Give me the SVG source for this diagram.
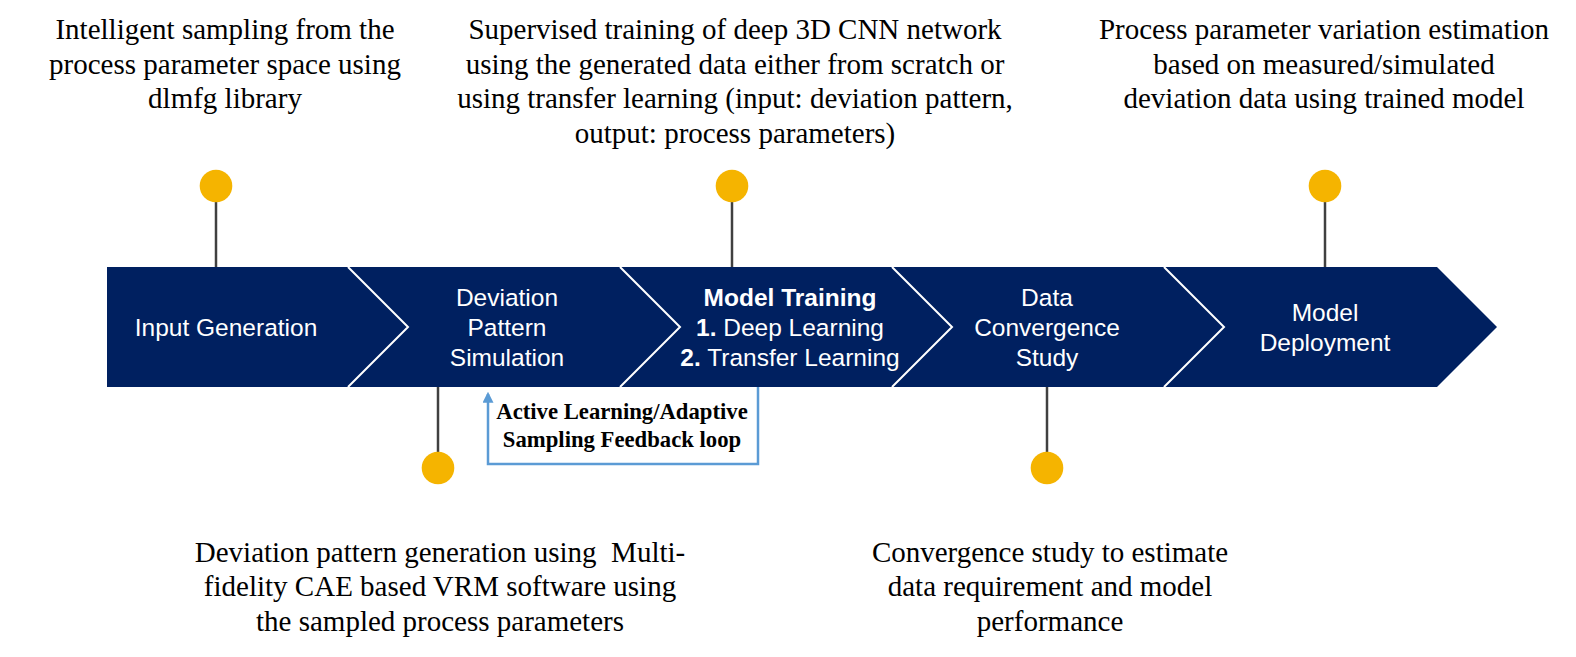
<svg xmlns="http://www.w3.org/2000/svg" width="1576" height="657" viewBox="0 0 1576 657">
<defs>
<style>
.desc{font-family:"Liberation Serif","Times New Roman",serif;font-size:29px;fill:#000;text-anchor:middle;}
.step{font-family:"Liberation Sans",Arial,sans-serif;font-size:24.5px;fill:#fff;text-anchor:middle;}
.b{font-weight:bold;}
.fb{font-family:"Liberation Serif","Times New Roman",serif;font-size:22.7px;font-weight:bold;fill:#000;text-anchor:middle;}
.stem{stroke:#404040;stroke-width:2.5;fill:none;}
.dot{fill:#F5B400;}
.sep{stroke:#fff;stroke-width:2;fill:none;}
.loop{stroke:#5B9BD5;stroke-width:2.5;fill:none;}
</style>
<marker id="ah" viewBox="0 0 10 10" refX="8" refY="5" markerWidth="4.4" markerHeight="4.4" orient="auto" markerUnits="strokeWidth">
<path d="M0,0 L10,5 L0,10 z" fill="#5B9BD5"/>
</marker>
</defs>
<rect width="1576" height="657" fill="#fff"/>

<g id="band">
<polygon points="107,267 1437,267 1497,327 1437,387 107,387" fill="#002060"/>
<polyline class="sep" points="348,267 408,327 348,387"/>
<polyline class="sep" points="620,267 680,327 620,387"/>
<polyline class="sep" points="892,267 952,327 892,387"/>
<polyline class="sep" points="1164,267 1224,327 1164,387"/>
</g>

<g id="connectors">
<line class="stem" x1="216" y1="200" x2="216" y2="267"/>
<line class="stem" x1="438" y1="387" x2="438" y2="454"/>
<line class="stem" x1="732" y1="200" x2="732" y2="267"/>
<line class="stem" x1="1047" y1="387" x2="1047" y2="454"/>
<line class="stem" x1="1325" y1="200" x2="1325" y2="267"/>
<path class="loop" d="M758,387 V464 H488 V394" marker-end="url(#ah)"/>
</g>

<g id="node-input-generation">
<text class="step" x="226" y="336">Input Generation</text>
<circle class="dot" cx="216" cy="186" r="16.3"/>
<text class="desc" x="225" y="39">Intelligent sampling from the</text>
<text class="desc" x="225" y="73.7">process parameter space using</text>
<text class="desc" x="225" y="108.4">dlmfg library</text>
</g>

<g id="node-deviation-pattern-simulation">
<text class="step" x="507" y="306">Deviation</text>
<text class="step" x="507" y="336">Pattern</text>
<text class="step" x="507" y="366">Simulation</text>
<circle class="dot" cx="438" cy="468" r="16.3"/>
<text class="desc" x="440" y="561.5" style="white-space:pre">Deviation pattern generation using  Multi-</text>
<text class="desc" x="440" y="596">fidelity CAE based VRM software using</text>
<text class="desc" x="440" y="630.5">the sampled process parameters</text>
</g>

<g id="node-model-training">
<text class="step b" x="790" y="306">Model Training</text>
<text class="step" x="790" y="336"><tspan class="b">1.</tspan> Deep Learning</text>
<text class="step" x="790" y="366"><tspan class="b">2.</tspan> Transfer Learning</text>
<circle class="dot" cx="732" cy="186" r="16.3"/>
<text class="desc" x="735" y="39">Supervised training of deep 3D CNN network</text>
<text class="desc" x="735" y="73.7">using the generated data either from scratch or</text>
<text class="desc" x="735" y="108.4">using transfer learning (input: deviation pattern,</text>
<text class="desc" x="735" y="143.1">output: process parameters)</text>
</g>

<g id="node-data-convergence-study">
<text class="step" x="1047" y="306">Data</text>
<text class="step" x="1047" y="336">Convergence</text>
<text class="step" x="1047" y="366">Study</text>
<circle class="dot" cx="1047" cy="468" r="16.3"/>
<text class="desc" x="1050" y="561.5">Convergence study to estimate</text>
<text class="desc" x="1050" y="596">data requirement and model</text>
<text class="desc" x="1050" y="630.5">performance</text>
</g>

<g id="node-model-deployment">
<text class="step" x="1325" y="321">Model</text>
<text class="step" x="1325" y="351">Deployment</text>
<circle class="dot" cx="1325" cy="186" r="16.3"/>
<text class="desc" x="1324" y="39">Process parameter variation estimation</text>
<text class="desc" x="1324" y="73.7">based on measured/simulated</text>
<text class="desc" x="1324" y="108.4">deviation data using trained model</text>
</g>

<g id="feedback-label">
<text class="fb" x="622" y="419">Active Learning/Adaptive</text>
<text class="fb" x="622" y="446.5">Sampling Feedback loop</text>
</g>
</svg>
